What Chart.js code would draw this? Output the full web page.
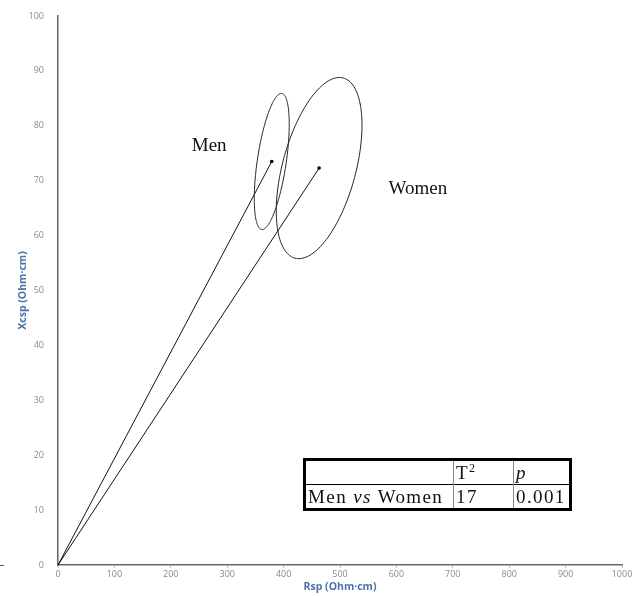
<!DOCTYPE html>
<html>
<head>
<meta charset="utf-8">
<script src="https://cdn.jsdelivr.net/npm/chart.js@4"></script>
<style>
  body { margin: 0; width: 638px; height: 596px; background: #fff; position: relative; overflow: hidden; }
  #wrap { position: absolute; left: 0; top: 12px; width: 638px; height: 584px; }
  #stats { position: absolute; left: 303px; top: 458px; border-collapse: collapse; border: 3px solid #000;
           font-family: "Liberation Serif", "Times New Roman", serif; font-size: 19px; letter-spacing: 1.4px; color: #111; }
  #stats td { padding: 0 2px; height: 23px; line-height: 20px; border-top: 1px solid #000; border-left: 1px solid #888; white-space: nowrap; }
  #stats tr:first-child td { border-top: none; }
  #stats td:first-child { border-left: none; width: 143px; }
  #stats td.c2 { width: 55px; }
  #stats td.c3 { width: 51px; }
</style>
</head>
<body>
<div id="wrap"><canvas id="myChart" width="638" height="584"></canvas></div>
<table id="stats">
  <tr><td></td><td class="c2" id="h1"></td><td class="c3" id="h2"></td></tr>
  <tr><td id="r0"></td><td class="c2" id="r1"></td><td class="c3" id="r2"></td></tr>
</table>
<script>
// group means (vector end points) and confidence ellipses
const groups = ['Men', 'Women'];
const rspMean = [379, 463];
const xcspMean = [73.5, 72.3];
// top-most point of each ellipse and its half width along Rsp
const ellipseTopRsp = [396, 499];
const ellipseTopXcsp = [85.9, 88.8];
const ellipseHalfWidth = [31, 76];

// label anchors (data units)
const labelRsp = [268, 638];
const labelXcsp = [76.4, 68.5];

// Hotelling test table
const comparison = ['Men', 'vs', 'Women'];
const tSquared = 17;
const pValue = '0.001';

const xMax = 1000, xStep = 100;
const yMax = 100, yStep = 10;

//------------------ table ---------------------
document.getElementById('h1').innerHTML = 'T<sup style="font-size:12px;vertical-align:7px;line-height:0">2</sup>';
document.getElementById('h2').innerHTML = '<i>p</i>';
document.getElementById('r0').innerHTML = comparison[0] + ' <i>' + comparison[1] + '</i> ' + comparison[2];
document.getElementById('r1').textContent = tSquared;
document.getElementById('r2').textContent = pValue;

//------------------ chart ---------------------
function makeDataset(i){
  return {
    label: groups[i],
    data: [{x: 0, y: 0}, {x: rspMean[i], y: xcspMean[i]}],
    showLine: true,
    borderColor: '#111',
    borderWidth: 1,
    pointRadius: [0, 1.8],
    pointBackgroundColor: '#000',
    pointBorderWidth: 0
  };
}

const ellipsePlugin = {
  id: 'ellipses',
  afterDatasetsDraw(chart){
    const ctx = chart.ctx;
    const xs = chart.scales.x, ys = chart.scales.y;
    ctx.save();
    ctx.strokeStyle = '#222';
    ctx.lineWidth = 1;
    for(let i = 0; i < groups.length; i++){
      const cx = rspMean[i], cy = xcspMean[i];
      const ux = ellipseTopRsp[i] - cx, uy = ellipseTopXcsp[i] - cy;
      const vx = Math.sqrt(ellipseHalfWidth[i] * ellipseHalfWidth[i] - ux * ux);
      ctx.beginPath();
      for(let k = 0; k <= 180; k++){
        const t = k / 180 * Math.PI * 2;
        const px = xs.getPixelForValue(cx + ux * Math.cos(t) + vx * Math.sin(t));
        const py = ys.getPixelForValue(cy + uy * Math.cos(t));
        if(k === 0) ctx.moveTo(px, py); else ctx.lineTo(px, py);
      }
      ctx.closePath();
      ctx.stroke();
    }
    // group names
    ctx.fillStyle = '#111';
    ctx.font = '19px "Liberation Serif", "Times New Roman", serif';
    ctx.textAlign = 'center';
    ctx.textBaseline = 'middle';
    for(let i = 0; i < groups.length; i++){
      ctx.fillText(groups[i], xs.getPixelForValue(labelRsp[i]), ys.getPixelForValue(labelXcsp[i]));
    }
    // small stray tick at left edge
    const y0 = ys.getPixelForValue(0);
    ctx.strokeStyle = '#555';
    ctx.beginPath();
    ctx.moveTo(0, y0 + 0.5);
    ctx.lineTo(4, y0 + 0.5);
    ctx.stroke();
    ctx.restore();
  }
};

new Chart(document.getElementById('myChart'), {
  type: 'scatter',
  data: { datasets: [makeDataset(0), makeDataset(1)] },
  options: {
    responsive: false,
    animation: false,
    layout: { padding: { top: 1, right: 16, left: 0, bottom: 0 } },
    plugins: { legend: { display: false }, tooltip: { enabled: false } },
    scales: {
      x: {
        type: 'linear', min: 0, max: xMax,
        ticks: { stepSize: xStep, color: '#8a8a8a', font: { family: 'Open Sans', size: 9 }, padding: 1, maxRotation: 0,
                 callback: (v) => String(v) },
        grid: { drawOnChartArea: false, drawTicks: true, tickLength: 3, color: '#c8c8c8' },
        border: { color: '#666', width: 1.5 },
        title: { display: true, text: 'Rsp (Ohm·cm)', color: '#4c72a8', font: { family: 'Open Sans', size: 10.5, weight: 'bold' }, padding: { top: 0, bottom: 3 } },
        afterFit(scale){ scale.height = 31; scale.paddingRight = 0; scale.paddingLeft = 0; }
      },
      y: {
        type: 'linear', min: 0, max: yMax,
        ticks: { stepSize: yStep, color: '#8a8a8a', font: { family: 'Open Sans', size: 9 }, padding: 6,
                 callback: (v) => String(v) },
        grid: { display: false },
        border: { color: '#666', width: 1.5 },
        title: { display: true, text: 'Xcsp (Ohm·cm)', color: '#4c72a8', font: { family: 'Open Sans', size: 10.5, weight: 'bold' }, padding: { top: 17, bottom: 0 } },
        afterFit(scale){ scale.width = 58; scale.paddingTop = 0; scale.paddingBottom = 0; }
      }
    }
  },
  plugins: [ellipsePlugin]
});
</script>
</body>
</html>
